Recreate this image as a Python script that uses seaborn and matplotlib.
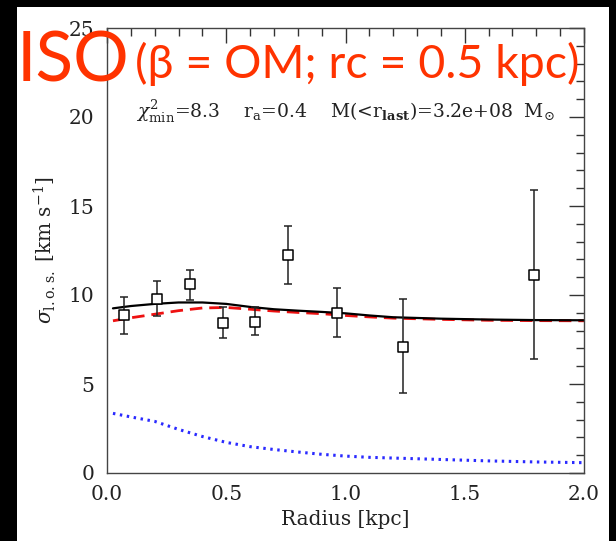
import numpy as np
import pandas as pd
import matplotlib
matplotlib.use("Agg")
import matplotlib.pyplot as plt
import seaborn as sns
from matplotlib.patches import Rectangle
from matplotlib.ticker import MultipleLocator

# ---- data ----
radius = [0.07, 0.21, 0.35, 0.485, 0.62, 0.76, 0.965, 1.24, 1.79]
sigma = [8.9, 9.8, 10.6, 8.45, 8.5, 12.25, 9.0, 7.1, 11.15]
err_lo = [1.1, 1.0, 0.9, 0.85, 0.75, 1.65, 1.35, 2.6, 4.75]
err_hi = [1.0, 1.0, 0.8, 0.85, 0.8, 1.65, 1.4, 2.7, 4.75]

r_model = [0.025, 0.1, 0.2, 0.3, 0.4, 0.5, 0.6, 0.7, 0.8, 0.9, 1.0, 1.1, 1.2, 1.4, 1.6, 1.8, 2.0]
sigma_total = [9.25, 9.38, 9.5, 9.58, 9.58, 9.5, 9.33, 9.2, 9.12, 9.05, 8.97, 8.85, 8.75, 8.67, 8.62, 8.59, 8.58]
sigma_red = [8.55, 8.72, 8.92, 9.12, 9.27, 9.3, 9.2, 9.1, 9.02, 8.95, 8.85, 8.77, 8.7, 8.63, 8.58, 8.56, 8.55]
sigma_blue = [3.35, 3.15, 2.9, 2.45, 2.05, 1.72, 1.48, 1.32, 1.18, 1.05, 0.95, 0.88, 0.84, 0.76, 0.68, 0.62, 0.58]

x_ticks = [0.0, 0.5, 1.0, 1.5, 2.0]
x_ticklabels = ["0.0", "0.5", "1.0", "1.5", "2.0"]
y_ticks = [0, 5, 10, 15, 20, 25]

sns.set_style("white")
plt.rcParams["mathtext.fontset"] = "dejavuserif"
plt.rcParams["font.family"] = ["DejaVu Serif"]

W, H = 616, 541
fig = plt.figure(figsize=(W / 100, H / 100), dpi=100, facecolor="white")
# black frame strips (left, top, right)
for (x0, y0, w, h) in [(0, 0, 17, H), (0, 0, W, 7), (609, 0, W - 609, H)]:
    fig.patches.append(Rectangle((x0 / W, 1 - (y0 + h) / H), w / W, h / H,
                                 transform=fig.transFigure, facecolor="black",
                                 edgecolor="none", zorder=10))

ax = fig.add_axes([107 / W, (H - 473) / H, (584 - 107) / W, (473 - 28) / H])
ax.set_facecolor("white")

df_model = pd.DataFrame({"r": r_model, "tot": sigma_total, "red": sigma_red, "blue": sigma_blue})
sns.lineplot(data=df_model, x="r", y="blue", ax=ax, color="#2a2aff", lw=2.2,
             linestyle=(0, (0.8, 1.5)))
sns.lineplot(data=df_model, x="r", y="red", ax=ax, color="#ee1111", lw=2.0,
             linestyle=(0, (4.5, 2.5)))
sns.lineplot(data=df_model, x="r", y="tot", ax=ax, color="black", lw=1.6)

ax.errorbar(radius, sigma, yerr=[err_lo, err_hi], fmt="none", ecolor="#222222",
            elinewidth=1.1, capsize=2.8, capthick=1.1, zorder=4)
df_obs = pd.DataFrame({"r": radius, "s": sigma})
sns.scatterplot(data=df_obs, x="r", y="s", ax=ax, marker="s", s=58,
                facecolor="white", edgecolor="black", linewidth=1.1, zorder=5)

ax.set_xlim(0, 2.0)
ax.set_ylim(0, 25)
ax.set_xticks(x_ticks)
ax.set_xticklabels(x_ticklabels)
ax.set_yticks(y_ticks)
ax.xaxis.set_minor_locator(MultipleLocator(0.1))
ax.yaxis.set_minor_locator(MultipleLocator(1))
ax.tick_params(which="both", direction="in", top=True, right=True, colors="#333333",
               labelcolor="#222222", width=1.0, labelsize=14.5)
ax.tick_params(which="major", length=11, pad=9)
ax.tick_params(which="minor", length=5.5)
for s in ax.spines.values():
    s.set_color("#444444")
    s.set_linewidth(1.0)

ax.set_xlabel("Radius [kpc]", fontsize=14.5, color="#222222", labelpad=4)
ax.set_ylabel(r"$\sigma_{\rm l.o.s.}$ [km s$^{-1}$]", fontsize=14.5, color="#222222", labelpad=8)

ax.text(0.5, 0.812, r"$\chi^2_{\rm min}$=8.3    r$_{\rm a}$=0.4    M(<r$_{\bf last}$)=3.2e+08  M$_{\odot}$",
        transform=ax.transAxes, ha="center", va="center", fontsize=13.5, color="#222222")

red = "#ff3300"
fig.text(17 / W, 1 - 82 / H, "ISO", fontsize=50, color=red, family=["Lato", "DejaVu Sans"],
         ha="left", va="baseline", zorder=11)
fig.text(135 / W, 1 - 78 / H, "(β = OM; rc = 0.5 kpc)", fontsize=33.5, color=red,
         family=["Lato", "DejaVu Sans"], ha="left", va="baseline", zorder=11)

fig.savefig("out.png", dpi=100)
